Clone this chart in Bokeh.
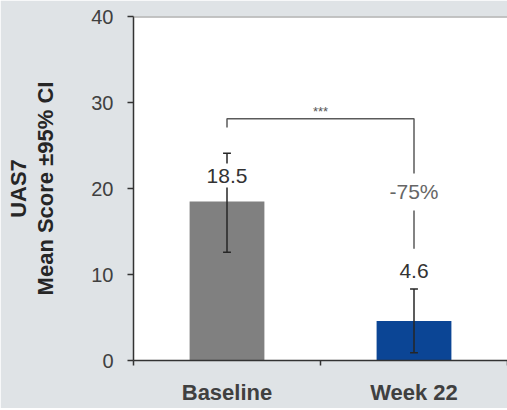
import numpy as np
from bokeh.plotting import figure
from bokeh.models import Range1d, FixedTicker, Label, Span
from bokeh.embed import file_html
from bokeh.resources import INLINE

# ---- data ----
categories = ["Baseline", "Week 22"]
means = [18.5, 4.6]
ci_lower = [12.6, 0.9]
ci_upper = [24.1, 8.3]
bar_colors = ["#808080", "#0b4595"]
y_ticks = [0, 10, 20, 30, 40]
significance = "***"
y_title = "UAS7\nMean Score \u00b195% CI"

# ---- layout constants ----
FONT = "Liberation Sans"
BG = "#dfe3e6"
xpos = np.arange(len(categories)) + 0.5
boundaries = list(np.arange(len(categories) + 1).astype(float))
value_label_y = [21.5, 10.4]
bracket_y = 28.1
bracket_left_end = 27.1
bracket_right_end = 13.0
pct_label_y = 19.6

p = figure(frame_width=374, frame_height=344,
           x_range=Range1d(0, 2), y_range=Range1d(y_ticks[0], y_ticks[-1]),
           output_backend="svg", toolbar_location=None,
           min_border_left=133, min_border_right=0, min_border_top=16, min_border_bottom=48)
p.background_fill_color = "white"
p.border_fill_color = BG
p.outline_line_color = None
p.grid.visible = False

# bars
p.vbar(x=xpos, top=means, width=0.4, fill_color=bar_colors, line_color=None)

# error bars
cap = 0.021
p.segment(x0=xpos, y0=ci_lower, x1=xpos, y1=ci_upper, line_color="#262626", line_width=1.5)
p.segment(x0=xpos - cap, y0=ci_upper, x1=xpos + cap, y1=ci_upper, line_color="#262626", line_width=1.5)
p.segment(x0=xpos - cap, y0=ci_lower, x1=xpos + cap, y1=ci_lower, line_color="#262626", line_width=1.5)

# significance bracket
p.line(x=[xpos[0], xpos[0], xpos[1], xpos[1]],
       y=[bracket_left_end, bracket_y, bracket_y, bracket_right_end],
       line_color="#5a5a5a", line_width=1.5)

# top border
p.add_layout(Span(location=y_ticks[-1], dimension="width", line_color="#8a8a8a", line_width=2))

# value labels
for xv, m, ly in zip(xpos, means, value_label_y):
    p.add_layout(Label(x=xv, y=ly, text=f"{m}", text_align="center", text_baseline="middle",
                       text_font=FONT, text_font_size="21px", text_color="#333333",
                       background_fill_color="white", padding=5))

pct = round(100 * (means[1] - means[0]) / means[0])
p.add_layout(Label(x=xpos[1], y=pct_label_y, text=f"{pct}%", text_align="center",
                   text_baseline="middle", text_font=FONT, text_font_size="21px",
                   text_color="#666666", background_fill_color="white", padding=7))
p.add_layout(Label(x=float(xpos.mean()), y=bracket_y, y_offset=0, text=significance,
                   text_align="center", text_baseline="bottom", text_font=FONT,
                   text_font_size="13px", text_color="#555555"))

# x axis
xa = p.xaxis[0]
xa.ticker = FixedTicker(ticks=list(xpos), minor_ticks=boundaries)
xa.major_label_overrides = {float(x): c for x, c in zip(xpos, categories)}
xa.major_tick_line_color = None
xa.major_tick_out = 0
xa.major_tick_in = 0
xa.minor_tick_line_color = "#333333"
xa.minor_tick_line_width = 1.5
xa.minor_tick_out = 5
xa.minor_tick_in = 0
xa.axis_line_color = "#333333"
xa.axis_line_width = 1.5
xa.major_label_standoff = 14
xa.major_label_text_font = FONT
xa.major_label_text_font_size = "22px"
xa.major_label_text_font_style = "bold"
xa.major_label_text_color = "#404040"

# y axis
ya = p.yaxis[0]
ya.ticker = FixedTicker(ticks=y_ticks)
ya.major_tick_out = 6
ya.major_tick_in = 0
ya.minor_tick_line_color = None
ya.major_tick_line_color = "#333333"
ya.major_tick_line_width = 1.5
ya.axis_line_color = "#333333"
ya.axis_line_width = 1.5
ya.major_label_standoff = 14
ya.major_label_text_font = FONT
ya.major_label_text_font_size = "20px"
ya.major_label_text_color = "#404040"
ya.axis_label = y_title
ya.axis_label_standoff = 30
ya.axis_label_text_font = FONT
ya.axis_label_text_font_size = "22px"
ya.axis_label_text_font_style = "bold"
ya.axis_label_text_color = "#262626"
ya.axis_label_text_line_height = 1.1

open("out.html", "w").write(file_html(p, INLINE))
